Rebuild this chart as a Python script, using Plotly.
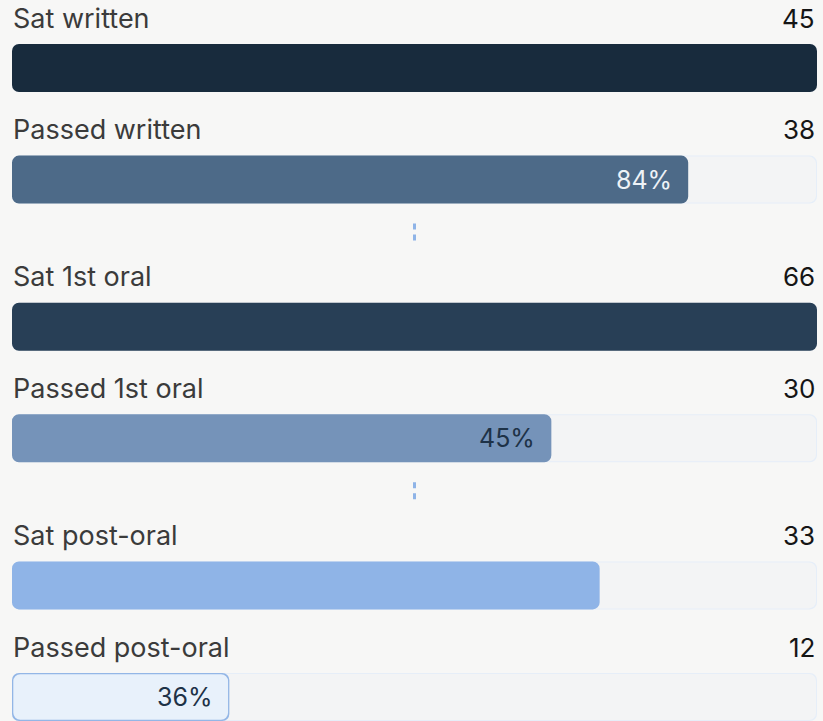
import numpy as np
import plotly.graph_objects as go

# ---- data ----
stages = ["Sat written", "Passed written", "Sat 1st oral", "Passed 1st oral",
          "Sat post-oral", "Passed post-oral"]
counts = [45, 38, 66, 30, 33, 12]
pct_labels = [None, "84%", None, "45%", None, "36%"]
bar_colors = ["#182b3d", "#4d6a88", "#283f56", "#7593b9", "#8fb4e7", "#e8f1fb"]
border_colors = [None, None, None, None, None, "#93b6e6"]
pct_text_colors = [None, "#eef2f7", None, "#1e3247", None, "#1e3247"]

# ---- layout constants ----
W, H = 823, 721
X0, X1 = 12, 817
scale_max = counts[0]
px = scale_max / (X1 - X0)          # one pixel in data units
row_h, group_gap, top = 111.6, 35.5, 68
idx = np.arange(len(stages))
y_pos = top + idx * row_h + (idx // 2) * group_gap
# bar length = whole-percent share of the scale maximum, capped at 100%
share = np.minimum(np.round(np.array(counts) / scale_max * 100), 100) / 100
shown = share * scale_max

fig = go.Figure()


def rounded_bars(y, start, end, color, width, hover=None, custom=None):
    start = np.asarray(start, float)
    end = np.asarray(end, float)
    common = dict(y=y, orientation="h", width=width,
                  marker=dict(color=color, line=dict(width=0)), showlegend=False)
    if hover:
        common.update(customdata=custom, hovertemplate=hover)
    else:
        common.update(hoverinfo="skip")
    fig.add_trace(go.Bar(base=start, x=end - start, **common))


n = len(stages)
# tracks: border then fill
rounded_bars(y_pos, [0] * n, [scale_max] * n, "#e6eef8", 48)
rounded_bars(y_pos, [px] * n, [scale_max - px] * n, "#f3f4f5", 46)

# value bars (bordered ones get an outer ring first)
for i in range(n):
    if border_colors[i]:
        rounded_bars([y_pos[i]], [0], [shown[i]], border_colors[i], 48)
        rounded_bars([y_pos[i]], [1.3 * px], [shown[i] - 1.3 * px], bar_colors[i], 45.4,
                     hover="%{customdata}<extra></extra>", custom=[counts[i]])
    else:
        rounded_bars([y_pos[i]], [0], [shown[i]], bar_colors[i], 48,
                     hover="%{customdata}<extra></extra>", custom=[counts[i]])

FONT = "Inter"
for i, (name, c) in enumerate(zip(stages, counts)):
    fig.add_annotation(x=0, xref="x domain", y=y_pos[i], yref="y", yshift=50, xshift=-1,
                       text=name, showarrow=False, xanchor="left", yanchor="middle",
                       font=dict(family=FONT, size=27, color="#3b3b3b"))
    fig.add_annotation(x=1, xref="x domain", y=y_pos[i], yref="y", yshift=50,
                       text=str(c), showarrow=False, xanchor="right", yanchor="middle",
                       font=dict(family=FONT, size=26, color="#151515"))
    if pct_labels[i]:
        fig.add_annotation(x=shown[i], xref="x", y=y_pos[i], yref="y", xshift=-14,
                           text=pct_labels[i], showarrow=False, xanchor="right",
                           yanchor="middle",
                           font=dict(family=FONT, size=25, color=pct_text_colors[i]))

# connectors between groups
for g in range(2):
    y_a = y_pos[2 * g + 1] + 24 + 20
    fig.add_shape(type="line", xref="x domain", x0=0.5, x1=0.5, yref="y",
                  y0=y_a, y1=y_a + 18,
                  line=dict(color="#8fb4e7", width=3, dash="6px,5px"))

fig.update_layout(
    width=W, height=H, margin=dict(l=0, r=0, t=0, b=0),
    paper_bgcolor="#f7f7f6", plot_bgcolor="#f7f7f6",
    barmode="overlay", barcornerradius=7,
    xaxis=dict(range=[0, scale_max], domain=[X0 / W, X1 / W], visible=False,
               fixedrange=True),
    yaxis=dict(range=[H, 0], visible=False, fixedrange=True),
)
fig.write_html("out.html")
